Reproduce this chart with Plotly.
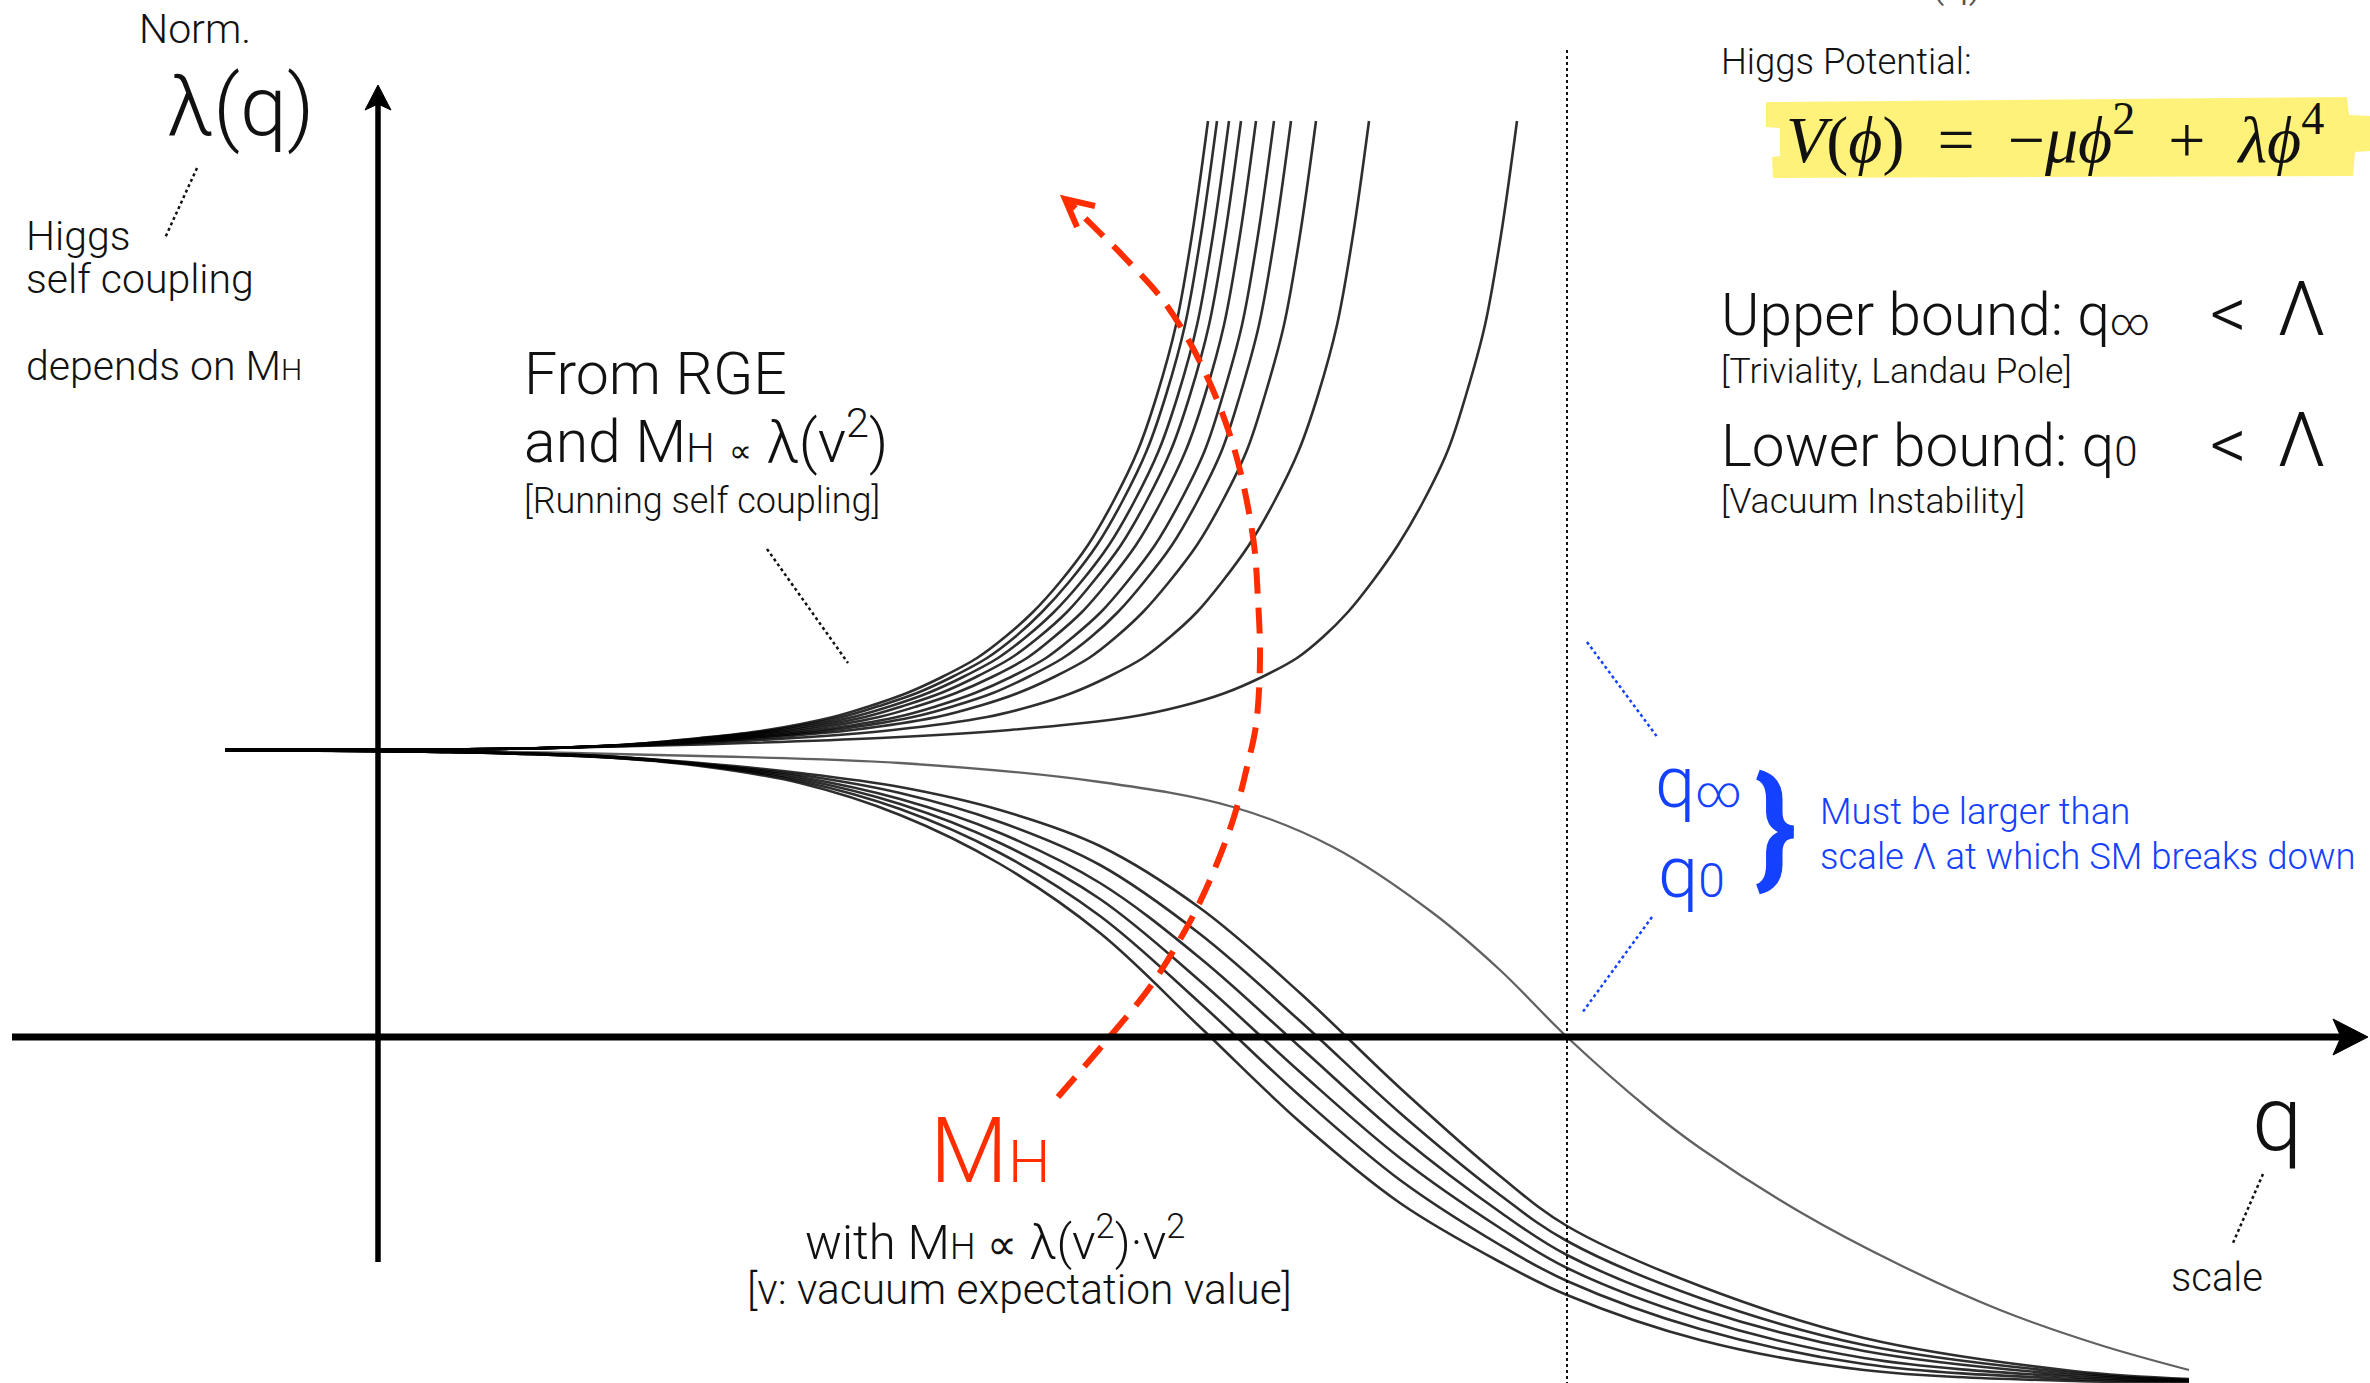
import plotly.graph_objects as go

# Canvas in pixel-like diagram units (y grows downward)
W, H = 2370, 1383

# ---- running self-coupling curves ----
# upper family (Landau-pole like): x positions at common heights
UP_Y = [750, 749.5, 748.6, 745, 738, 730, 717, 706, 693, 677, 658, 637, 612, 582, 545, 502, 450, 395, 325, 235, 121]
U1_X = [225, 400, 520, 620, 700, 767, 833, 870, 907, 942, 977, 1005, 1033, 1060, 1088, 1113, 1138, 1157, 1176, 1192, 1208]
U2_X = [225, 400, 520, 622, 705, 774, 842, 879, 917, 952, 987, 1015, 1042, 1069, 1097, 1122, 1147, 1166, 1185, 1201, 1217]
U3_X = [225, 400, 520, 624, 712, 783, 853, 891, 928, 963, 998, 1026, 1054, 1081, 1109, 1134, 1159, 1178, 1197, 1213, 1229]
U4_X = [225, 400, 520, 626, 719, 793, 865, 903, 941, 976, 1011, 1039, 1067, 1093, 1121, 1146, 1171, 1190, 1209, 1225, 1241]
U5_X = [225, 400, 520, 629, 728, 805, 879, 918, 956, 992, 1027, 1054, 1082, 1108, 1136, 1161, 1186, 1205, 1224, 1240, 1256]
U6_X = [225, 400, 520, 633, 739, 819, 897, 937, 975, 1011, 1046, 1073, 1101, 1127, 1155, 1180, 1205, 1223, 1242, 1258, 1274]
U7_X = [225, 400, 520, 636, 749, 833, 913, 954, 993, 1028, 1063, 1091, 1118, 1144, 1172, 1197, 1222, 1240, 1259, 1275, 1291]
U8_X = [225, 400, 520, 641, 763, 852, 937, 979, 1018, 1054, 1089, 1116, 1143, 1169, 1197, 1222, 1247, 1265, 1284, 1300, 1316]
U9_X = [225, 400, 520, 651, 794, 893, 987, 1032, 1072, 1108, 1143, 1170, 1197, 1222, 1249, 1274, 1299, 1318, 1337, 1353, 1369]
U10_X = [225, 400, 520, 680, 880, 1010, 1130, 1182, 1225, 1262, 1297, 1323, 1348, 1372, 1398, 1423, 1448, 1466, 1485, 1501, 1517]

# lower family (vacuum instability): heights at common x positions
LOW_X = [225, 450, 600, 700, 800, 900, 1000, 1100, 1200, 1300, 1400, 1500, 1567, 1700, 1864, 2073, 2189]
B1_Y = [750, 752, 757, 766, 783, 815, 864, 933, 1027, 1122, 1203, 1262, 1295, 1340, 1370, 1381, 1382]
B2_Y = [750, 752, 757, 765, 781, 809, 853, 916, 1003, 1096, 1180, 1245, 1281, 1329, 1364, 1379, 1381]
B3_Y = [750, 752, 757, 765, 779, 804, 843, 899, 981, 1072, 1158, 1228, 1268, 1319, 1358, 1377, 1381]
B4_Y = [750, 752, 756, 764, 777, 799, 833, 883, 958, 1047, 1136, 1212, 1255, 1309, 1351, 1375, 1380]
B5_Y = [750, 752, 756, 764, 775, 793, 822, 865, 934, 1021, 1113, 1195, 1241, 1298, 1345, 1373, 1380]
B6_Y = [750, 752, 756, 763, 773, 787, 810, 846, 908, 993, 1088, 1176, 1226, 1286, 1338, 1371, 1379]

# the slowest falling curve, crossing zero right at the cut-off scale
L0_X = [225, 450, 700, 900, 1100, 1233, 1333, 1433, 1500, 1567, 1650, 1700, 1800, 1900, 2000, 2100, 2189]
L0_Y = [750, 751, 756, 763, 782, 807, 847, 913, 970, 1037, 1110, 1148, 1212, 1265, 1310, 1345, 1370]

# increasing Higgs mass direction (red dashed arrow)
MH_X = [1058, 1107, 1150, 1187, 1210, 1233, 1247, 1256, 1260, 1258, 1253, 1234, 1203, 1165, 1125, 1092, 1068]
MH_Y = [1097, 1040, 987, 927, 880, 820, 767, 725, 660, 600, 537, 448, 368, 303, 258, 225, 201]

BLACK = "#111111"
BLUE = "#1440ff"
RED = "#ff2d00"
FONT = "Roboto"

fig = go.Figure()

curve_style = dict(color="rgba(0,0,0,0.82)", width=2.6, shape="spline", smoothing=1.0)
for xs in [U1_X, U2_X, U3_X, U4_X, U5_X, U6_X, U7_X, U8_X, U9_X, U10_X]:
    fig.add_trace(go.Scatter(x=xs, y=UP_Y, mode="lines", line=curve_style, hoverinfo="skip"))
for ys in [B1_Y, B2_Y, B3_Y, B4_Y, B5_Y, B6_Y]:
    fig.add_trace(go.Scatter(x=LOW_X, y=ys, mode="lines", line=curve_style, hoverinfo="skip"))
fig.add_trace(go.Scatter(x=L0_X, y=L0_Y, mode="lines",
                         line=dict(color="rgba(0,0,0,0.62)", width=2.3, shape="spline", smoothing=1.0),
                         hoverinfo="skip"))
fig.add_trace(go.Scatter(x=MH_X, y=MH_Y, mode="lines",
                         line=dict(color=RED, width=6, dash="26px,14px", shape="spline", smoothing=1),
                         hoverinfo="skip"))

shapes = []
# cut-off scale (dotted vertical)
shapes.append(dict(type="line", x0=1567, x1=1567, y0=50, y1=H, line=dict(color=BLACK, width=2, dash="dot"), layer="below"))
# axes
shapes.append(dict(type="line", x0=378, x1=378, y0=1262, y1=100, line=dict(color="black", width=5.5), layer="above"))
shapes.append(dict(type="line", x0=12, x1=2345, y0=1037, y1=1037, line=dict(color="black", width=7), layer="above"))
shapes.append(dict(type="path", path="M 378,85 L 391,110 L 378,104 L 365,110 Z",
                   fillcolor="black", line=dict(color="black", width=1), layer="above"))
shapes.append(dict(type="path", path="M 2368,1037 L 2333,1019 L 2341,1037 L 2333,1055 Z",
                   fillcolor="black", line=dict(color="black", width=1), layer="above"))
# red arrow head
shapes.append(dict(type="path", path="M 1095,206 L 1065,199 L 1077,227",
                   line=dict(color=RED, width=6), layer="above"))
# highlighter behind the potential
shapes.append(dict(type="path",
                   path="M 1766,102 L 2347,97 L 2349,115 L 2370,116 L 2370,151 L 2355,152 L 2353,176 "
                        "L 1773,178 L 1772,157 L 1780,156 L 1780,128 L 1766,127 Z",
                   fillcolor="#fff27a", line=dict(width=0), layer="below"))
# pointer lines
for (x0, y0, x1, y1, c) in [(197, 168, 165, 238, BLACK), (767, 549, 848, 663, BLACK),
                            (2263, 1174, 2233, 1243, BLACK), (1587, 642, 1658, 738, BLUE),
                            (1652, 917, 1582, 1013, BLUE)]:
    shapes.append(dict(type="line", x0=x0, y0=y0, x1=x1, y1=y1, line=dict(color=c, width=2.5, dash="dot")))


def txt(text, x, y, size, color=BLACK, anchor="left", family=FONT, weight=300, yshift=0):
    fig.add_annotation(x=x, y=y, xref="x", yref="y", text=text, showarrow=False,
                       xanchor=anchor, yanchor="middle", yshift=yshift,
                       font=dict(family=family, size=size, color=color, weight=weight))


def small(s, px):
    return f'<span style="font-size:{px}px">{s}</span>'


NB = "\u00a0"

# left side labels
txt("Norm.", 195, 29, 41, anchor="center")
txt("λ(q)", 240, 106, 84, anchor="center")
txt("Higgs", 24, 236, 41)
txt("self coupling", 24, 279, 41)
txt("depends on M" + small("H", 30), 24, 366, 41)

txt("From RGE", 522, 373, 59)
txt("and M" + small("H", 40) + " " + small("∝", 32) + " λ(v<sup>2</sup>)", 522, 437, 59)
txt("[Running self coupling]", 522, 501, 36)

# right side
txt("Higgs Potential:", 1719, 61, 36.5)
txt("<i>V</i>(<i>ϕ</i>)" + NB * 2 + "=" + NB * 2 + "−<i>μϕ</i><sup>2</sup>" + NB * 2 + "+" + NB * 2
    + "<i>λϕ</i><sup>4</sup>",
    1784, 135, 66, family="Liberation Serif", weight=400)
txt("Upper bound: q" + small("∞", 38), 1719, 315, 58.5)
txt("<", 2208, 313, 72)
txt("Λ", 2275, 309, 76)
txt("[Triviality, Landau Pole]", 1719, 371, 35.5)
txt("Lower bound: q" + small("0", 42), 1719, 446, 58.5)
txt("<", 2208, 444, 72)
txt("Λ", 2275, 440, 76)
txt("[Vacuum Instability]", 1719, 501, 35.5)

# blue bracket annotation
txt("q" + small("∞", 44), 1653, 782, 72, color=BLUE)
txt("q" + small("0", 48), 1656, 872, 72, color=BLUE)
txt("}", 1752, 826, 130, color=BLUE, weight=700)
txt("Must be larger than", 1818, 811, 36.5, color=BLUE)
txt("scale Λ at which SM breaks down", 1818, 856, 36.5, color=BLUE)

# bottom labels
txt("M" + small("H", 60), 928, 1151, 90, color=RED)
txt("with M" + small("H", 36) + " " + small("∝", 42) + " λ(v<sup>2</sup>)·v<sup>2</sup>", 803, 1238, 49)
txt("[v: vacuum expectation value]", 745, 1289, 42.5)
txt("q", 2250, 1119, 90)
txt("scale", 2169, 1277, 40)
# clipped label at the very top edge
txt("λ(q)", 1944, 0, 44, color="#555555", anchor="center", yshift=19)

fig.update_layout(
    width=W, height=H, margin=dict(l=0, r=0, t=0, b=0),
    paper_bgcolor="white", plot_bgcolor="white", showlegend=False,
    xaxis=dict(range=[0, W], visible=False, fixedrange=True),
    yaxis=dict(range=[H, 0], visible=False, fixedrange=True),
    shapes=shapes,
)

fig.write_html("out.html")
